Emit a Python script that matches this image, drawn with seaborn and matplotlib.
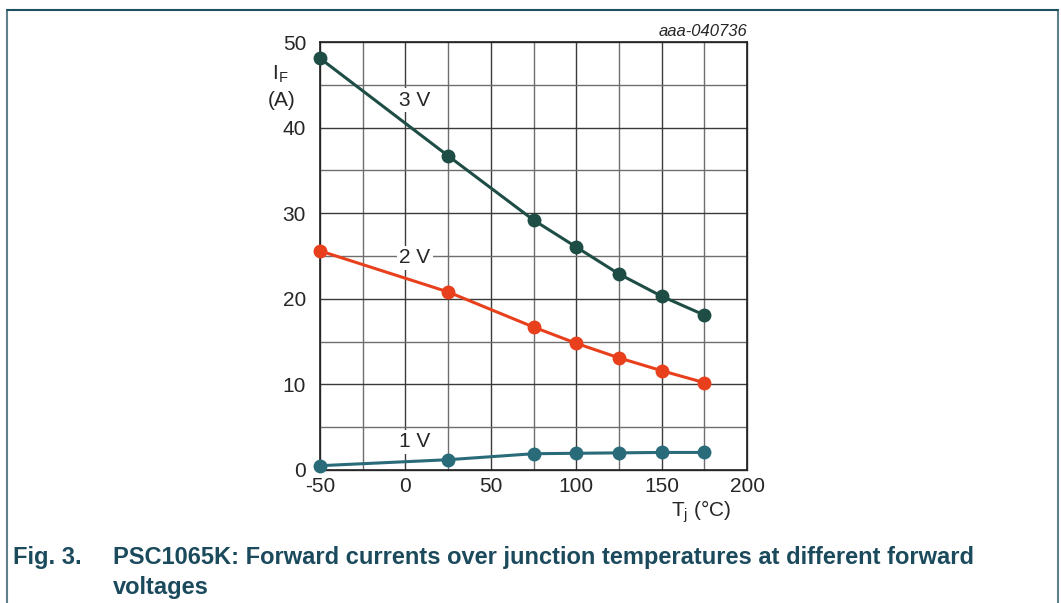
import numpy as np
import pandas as pd
import matplotlib
matplotlib.use("Agg")
import matplotlib.pyplot as plt
import seaborn as sns
from matplotlib.lines import Line2D

# data
temps = [-50, 25, 75, 100, 125, 150, 175]
i_3v = [48.1, 36.7, 29.2, 26.05, 22.9, 20.3, 18.1]
i_2v = [25.6, 20.8, 16.7, 14.8, 13.1, 11.6, 10.2]
i_1v = [0.5, 1.2, 1.9, 1.95, 2.0, 2.05, 2.05]
series_names = ["3 V", "2 V", "1 V"]
series_colors = ["#1d4d44", "#e8401c", "#2a6b7a"]
x_ticks = [-50, 0, 50, 100, 150, 200]
y_ticks = [0, 10, 20, 30, 40, 50]

df = pd.DataFrame({
    "Tj": temps * 3,
    "IF": i_3v + i_2v + i_1v,
    "V": [n for n in series_names for _ in temps],
})

sns.set_style("white")
plt.rcParams["font.family"] = ["Liberation Sans", "DejaVu Sans"]

fig = plt.figure(figsize=(10.61, 6.03), dpi=100)
ax = fig.add_axes([0.3016, 0.2206, 0.4025, 0.7097])

# grid
for gx in np.arange(-50, 201, 25):
    ax.axvline(gx, color="#3a3a3a" if gx % 50 == 0 else "#6e6e6e", lw=1.0, zorder=0)
for gy in np.arange(0, 51, 5):
    ax.axhline(gy, color="#3a3a3a" if gy % 10 == 0 else "#6e6e6e", lw=1.0, zorder=0)

sns.lineplot(data=df, x="Tj", y="IF", hue="V", palette=dict(zip(series_names, series_colors)),
             marker="o", markersize=10, markeredgewidth=0, linewidth=2.2,
             legend=False, ax=ax, zorder=3)
for ln in ax.lines:
    ln.set_clip_on(False)

ax.set_xlim(-50, 200)
ax.set_ylim(0, 50)
ax.set_xticks(x_ticks)
ax.set_yticks(y_ticks)
ax.set_xticklabels([str(t) for t in x_ticks])
ax.set_yticklabels([str(t) for t in y_ticks])
ax.tick_params(axis="y", labelsize=15, length=0, pad=10)
ax.tick_params(axis="x", labelsize=15, length=0, pad=5)
ax.set_xlabel("")
ax.set_ylabel("")
for s in ax.spines.values():
    s.set_color("#222222")
    s.set_linewidth(1.2)

# curve labels
label_pos = [(5.5, 43.2), (5.5, 24.8), (5.5, 3.3)]
for name, (lx, ly) in zip(series_names, label_pos):
    ax.text(lx, ly, name, fontsize=15, ha="center", va="center", zorder=4,
            bbox=dict(facecolor="white", edgecolor="none", pad=2))

# axis titles
fig.text(0.264, 0.877, "I$_\\mathregular{F}$", fontsize=15, ha="center", va="center")
fig.text(0.265, 0.834, "(A)", fontsize=15, ha="center", va="center")
fig.text(0.661, 0.152, "T$_\\mathregular{j}$ (°C)", fontsize=15, ha="center", va="center")
fig.text(0.704, 0.948, "aaa-040736", fontsize=12, style="italic", ha="right", va="center")

# outer frame
frame_color = "#1f4f5f"
fig.add_artist(Line2D([0.0066, 0.0066], [0, 0.984], color="#5f7f8a", lw=1.5, transform=fig.transFigure))
fig.add_artist(Line2D([0.9972, 0.9972], [0, 0.984], color="#5f7f8a", lw=1.5, transform=fig.transFigure))
fig.add_artist(Line2D([0.0066, 0.9972], [0.984, 0.984], color=frame_color, lw=1.5, transform=fig.transFigure))

# caption
cap_color = "#1b4a5c"
fig.text(0.0125, 0.076, "Fig. 3.", fontsize=17, fontweight="bold", color=cap_color, va="center")
fig.text(0.1065, 0.076, "PSC1065K: Forward currents over junction temperatures at different forward",
         fontsize=17, fontweight="bold", color=cap_color, va="center")
fig.text(0.1065, 0.026, "voltages", fontsize=17, fontweight="bold", color=cap_color, va="center")

fig.savefig("out.png", dpi=100)
